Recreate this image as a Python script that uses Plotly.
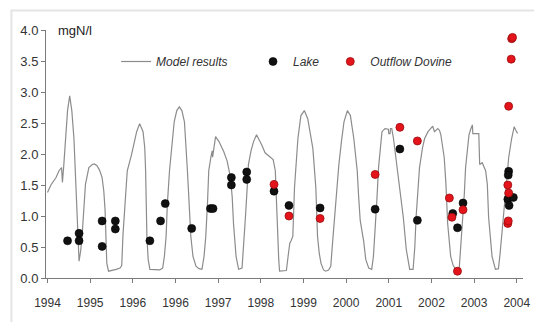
import plotly.graph_objects as go

# ---- data (x = years from the first tick) ----
model_t = [0.00, 0.08, 0.20, 0.27, 0.33, 0.35, 0.38, 0.43, 0.47, 0.52, 0.57, 0.62, 0.68, 0.72, 0.74, 0.78,
           0.81, 0.89, 0.97, 1.05, 1.10, 1.16, 1.22, 1.28, 1.32, 1.35, 1.39, 1.43, 1.52, 1.61, 1.70, 1.74,
           1.77, 1.82, 1.87, 1.97, 2.03, 2.09, 2.16, 2.24, 2.28, 2.30, 2.33, 2.36, 2.40, 2.52, 2.63, 2.70,
           2.72, 2.74, 2.78, 2.81, 2.86, 2.92, 2.97, 3.03, 3.09, 3.15, 3.21, 3.28, 3.32, 3.36, 3.41, 3.48,
           3.55, 3.62, 3.67, 3.71, 3.75, 3.78, 3.83, 3.86, 3.87, 3.94, 4.02, 4.13, 4.21, 4.29, 4.33, 4.36,
           4.42, 4.48, 4.56, 4.59, 4.64, 4.68, 4.71, 4.77, 4.83, 4.90, 4.97, 5.02, 5.10, 5.15, 5.21, 5.29,
           5.34, 5.37, 5.39, 5.42, 5.44, 5.52, 5.60, 5.64, 5.66, 5.68, 5.71, 5.75, 5.79, 5.83, 5.87, 5.94,
           6.02, 6.10, 6.16, 6.22, 6.29, 6.33, 6.37, 6.41, 6.47, 6.52, 6.59, 6.64, 6.68, 6.72, 6.77, 6.83,
           6.89, 6.95, 7.03, 7.10, 7.18, 7.22, 7.26, 7.29, 7.33, 7.41, 7.46, 7.53, 7.60, 7.64, 7.68, 7.72,
           7.76, 7.80, 7.84, 7.91, 7.99, 8.00, 8.03, 8.04, 8.07, 8.11, 8.19, 8.26, 8.34, 8.41, 8.49, 8.57,
           8.61, 8.64, 8.72, 8.79, 8.84, 8.92, 8.99, 9.03, 9.07, 9.11, 9.15, 9.19, 9.22, 9.30, 9.34, 9.38,
           9.42, 9.45, 9.51, 9.57, 9.65, 9.69, 9.73, 9.77, 9.80, 9.84, 9.88, 9.92, 9.96, 9.97, 10.03, 10.11,
           10.13, 10.19, 10.27, 10.31, 10.34, 10.38, 10.42, 10.50, 10.57, 10.61, 10.65, 10.73, 10.81, 10.88,
           10.94, 10.98, 11.02]
model_v = [1.38, 1.50, 1.62, 1.73, 1.78, 1.54, 1.80, 2.25, 2.70, 2.94, 2.70, 2.25, 1.20, 0.50, 0.27, 0.45,
           0.67, 1.51, 1.78, 1.83, 1.84, 1.81, 1.74, 1.62, 1.40, 1.09, 0.24, 0.11, 0.12, 0.14, 0.16, 0.20,
           0.70, 1.20, 1.73, 1.99, 2.20, 2.36, 2.49, 2.36, 2.10, 1.73, 0.67, 0.30, 0.14, 0.13, 0.13, 0.16,
           0.25, 0.35, 0.67, 1.20, 1.73, 2.20, 2.52, 2.70, 2.76, 2.70, 2.52, 1.73, 1.10, 0.67, 0.35, 0.19,
           0.15, 0.14, 0.35, 0.67, 1.20, 1.73, 1.95, 2.05, 1.95, 2.28, 2.20, 2.04, 1.89, 1.62, 1.30, 0.88,
           0.35, 0.14, 0.16, 0.55, 0.98, 1.45, 1.83, 2.05, 2.20, 2.31, 2.22, 2.15, 2.02, 1.99, 1.97, 1.91,
           1.73, 1.20, 0.67, 0.30, 0.11, 0.11, 0.12, 0.35, 0.50, 0.56, 0.60, 0.67, 1.46, 1.90, 2.25, 2.62,
           2.70, 2.57, 2.35, 2.09, 1.46, 0.67, 0.40, 0.24, 0.13, 0.11, 0.13, 0.19, 0.55, 0.93, 1.40, 1.83,
           2.20, 2.52, 2.70, 2.62, 2.25, 1.95, 1.73, 1.35, 0.93, 0.60, 0.30, 0.16, 0.14, 0.35, 0.72, 1.25,
           1.78, 2.15, 2.36, 2.41, 2.40, 2.33, 2.33, 2.41, 2.41, 2.25, 1.78, 1.41, 0.98, 0.46, 0.14, 0.14,
           0.50, 0.98, 1.78, 2.10, 2.25, 2.36, 2.41, 2.45, 2.36, 2.38, 2.41, 2.38, 2.31, 1.94, 1.51, 0.88,
           0.55, 0.35, 0.20, 0.14, 0.14, 0.50, 0.88, 1.35, 1.78, 2.05, 2.31, 2.40, 2.47, 2.33, 2.33, 2.33,
           1.83, 1.86, 1.73, 1.51, 0.98, 0.60, 0.35, 0.14, 0.15, 0.40, 0.72, 1.41, 1.94, 2.25,
           2.44, 2.38, 2.33]

lake_t = [0.47, 0.74, 0.74, 1.28, 1.28, 1.59, 1.59, 2.40, 2.65, 2.76, 3.38, 3.82, 3.88, 4.31, 4.31,
          4.67, 4.67, 5.31, 5.66, 6.39, 7.68, 8.26, 8.67, 9.50, 9.61, 9.74, 10.81, 10.80, 10.79, 10.92,
          10.82]
lake_v = [0.60, 0.72, 0.60, 0.92, 0.51, 0.92, 0.79, 0.60, 0.92, 1.20, 0.80, 1.12, 1.12, 1.62, 1.50,
          1.71, 1.59, 1.40, 1.17, 1.13, 1.11, 2.08, 0.93, 1.04, 0.81, 1.21, 1.72, 1.66, 1.27, 1.30,
          1.17]

outflow_t = [5.31, 5.66, 6.39, 7.68, 8.26, 8.67, 9.42, 9.48, 9.61, 9.74, 10.79, 10.81, 10.79, 10.80,
             10.81, 10.87, 10.88, 10.90]
outflow_v = [1.51, 1.00, 0.96, 1.67, 2.43, 2.21, 1.29, 0.98, 0.11, 1.10, 1.50, 1.37, 0.88, 0.92,
             2.77, 3.53, 3.86, 3.88]

tick_pos = [0, 1, 2, 3, 4, 5, 6, 7, 8, 9, 10, 11]
tick_labels = ["1994", "1995", "1996", "1996", "1997", "1998", "1999", "2000", "2001", "2002", "2003", "2004"]
y_ticks = [0.0, 0.5, 1.0, 1.5, 2.0, 2.5, 3.0, 3.5, 4.0]

FONT = "Liberation Sans, Arial, sans-serif"
leg_font = dict(family=FONT, size=12, color="#333333", style="italic")

fig = go.Figure()
fig.add_trace(go.Scatter(x=model_t, y=model_v, mode="lines", name="Model results",
                         line=dict(color="#8c8c8c", width=1.2), legend="legend"))
fig.add_trace(go.Scatter(x=lake_t, y=lake_v, mode="markers", name="Lake",
                         marker=dict(color="#111111", size=8, line=dict(color="#000000", width=0.6)),
                         legend="legend2"))
fig.add_trace(go.Scatter(x=outflow_t, y=outflow_v, mode="markers", name="Outflow Dovine",
                         marker=dict(color="#e3141c", size=8, line=dict(color="#9a0d0d", width=0.8)),
                         legend="legend3"))

leg_common = dict(orientation="h", yanchor="middle", y=0.873, xanchor="left",
                  bgcolor="rgba(0,0,0,0)", font=leg_font, itemwidth=30)

# page body has an 8px default margin, so the figure is 8px smaller than the window
fig.update_layout(
    width=534, height=314,
    margin=dict(l=37, r=14, t=22, b=40),
    paper_bgcolor="white", plot_bgcolor="white",
    showlegend=True,
    legend=dict(x=0.147, **leg_common),
    legend2=dict(x=0.434, **leg_common),
    legend3=dict(x=0.596, **leg_common),
    xaxis=dict(range=[-0.035, 11.146], tickmode="array", tickvals=tick_pos, ticktext=tick_labels,
               showgrid=False, zeroline=False, showline=True, linecolor="#7a7a7a", linewidth=1,
               ticks="outside", ticklen=4, tickcolor="#7a7a7a", ticklabelstandoff=10,
               tickfont=dict(family=FONT, size=12, color="#333333")),
    yaxis=dict(range=[0, 4.0], tickmode="array", tickvals=y_ticks, tickformat=".1f",
               showgrid=False, zeroline=False, showline=True, linecolor="#7a7a7a", linewidth=1,
               ticks="outside", ticklen=4, tickcolor="#7a7a7a",
               tickfont=dict(family=FONT, size=13, color="#333333")),
    shapes=[dict(type="rect", xref="paper", yref="paper", x0=-0.0725, x1=1.6, y0=-0.6, y1=1.079,
                 line=dict(color="#e4e4e4", width=2), fillcolor="rgba(0,0,0,0)", layer="below")],
    annotations=[dict(text="mgN/l", xref="paper", yref="y", x=0.02, y=4.0,
                      xanchor="left", yanchor="middle", showarrow=False,
                      font=dict(family=FONT, size=13, color="#222222"))],
)

fig.write_html("out.html")
